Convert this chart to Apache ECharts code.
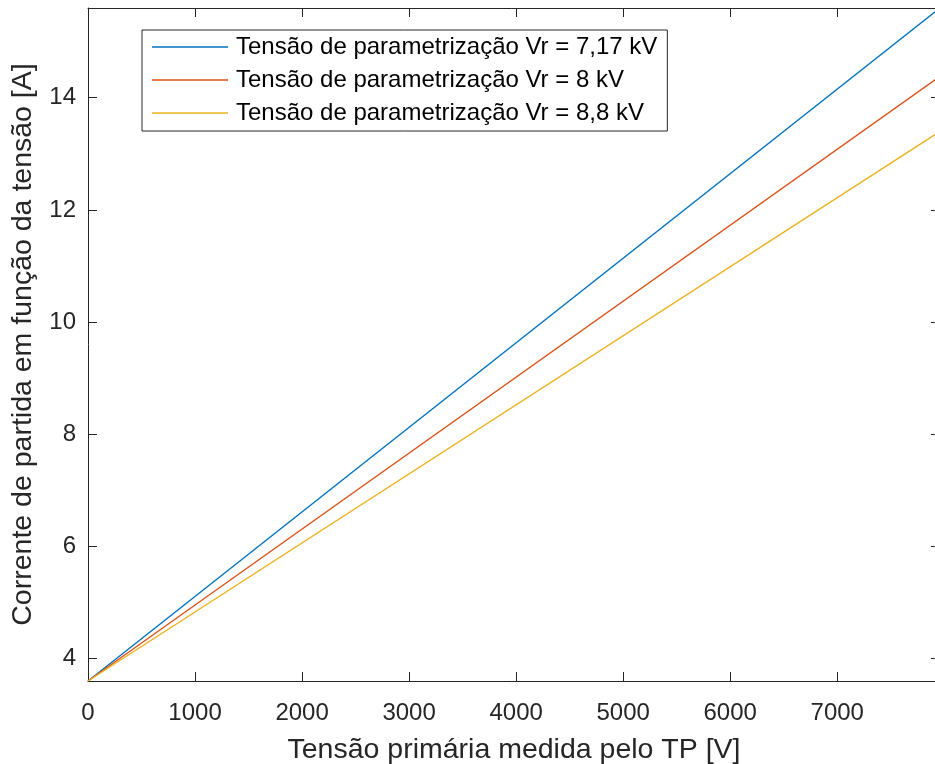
<!DOCTYPE html>
<html>
<head>
<meta charset="utf-8">
<script src="https://cdn.jsdelivr.net/npm/echarts@6/dist/echarts.min.js"></script>
<style>html,body{margin:0;padding:0;background:#fff}#c{width:935px;height:764px}</style>
</head>
<body>
<div id="c"></div>
<script>
const seriesNames = [
  'Tensão de parametrização Vr = 7,17 kV',
  'Tensão de parametrização Vr = 8 kV',
  'Tensão de parametrização Vr = 8,8 kV'
];
const xValues = [0, 7960];
const current717 = [3.6, 15.6];
const current8 = [3.6, 14.38];
const current88 = [3.6, 13.4];
const xTicks = [0, 1000, 2000, 3000, 4000, 5000, 6000, 7000];
const yTicks = [4, 6, 8, 10, 12, 14];
const colors = ['#0072BD', '#D95319', '#EDB120'];

const font = '"Liberation Sans", Arial, sans-serif';
const axisColor = '#262626';
const chart = echarts.init(document.getElementById('c'), null, {renderer: 'canvas'});

function pairs(ys) { return xValues.map((x, i) => [x, ys[i]]); }

const baseX = {
  type: 'value', min: 0, max: 7960,
  axisLine: {show: true, onZero: false, lineStyle: {color: axisColor, width: 1}},
  axisTick: {show: true, inside: true, length: 9, customValues: xTicks, lineStyle: {color: axisColor}},
  splitLine: {show: false}
};
const baseY = {
  type: 'value', min: 3.6, max: 15.6,
  axisLine: {show: true, onZero: false, lineStyle: {color: axisColor, width: 1}},
  axisTick: {show: true, inside: true, length: 9, customValues: yTicks, lineStyle: {color: axisColor}},
  splitLine: {show: false}
};

chart.setOption({
  animation: false,
  backgroundColor: '#fff',
  color: colors,
  grid: {left: 88, right: -5, top: 8, bottom: 83, containLabel: false, outerBoundsMode: 'none'},
  legend: {
    orient: 'vertical', left: 142, top: 30,
    data: seriesNames,
    backgroundColor: '#fff',
    borderColor: axisColor, borderWidth: 1, borderRadius: 0,
    padding: [5, 10, 6, 10],
    itemGap: 9, itemWidth: 76, itemHeight: 14,
    icon: 'path://M0,0 L76,0 L76,1.5 L0,1.5 Z',
    textStyle: {fontFamily: font, fontSize: 24, lineHeight: 24, color: '#000', padding: [0, 0, 0, 3]}
  },
  xAxis: [
    Object.assign({}, baseX, {
      position: 'bottom',
      name: 'Tensão primária medida pelo TP [V]',
      nameLocation: 'middle', nameGap: 55,
      nameTextStyle: {fontFamily: font, fontSize: 28.5, color: axisColor},
      axisLabel: {show: true, customValues: xTicks, margin: 20, fontFamily: font, fontSize: 24, color: axisColor,
        formatter: v => String(v)}
    }),
    Object.assign({}, baseX, {position: 'top', axisLabel: {show: false}})
  ],
  yAxis: [
    Object.assign({}, baseY, {
      position: 'left',
      name: 'Corrente de partida em função da tensão [A]',
      nameLocation: 'middle', nameGap: 50,
      nameTextStyle: {fontFamily: font, fontSize: 28.5, color: axisColor},
      axisLabel: {show: true, customValues: yTicks, margin: 12, fontFamily: font, fontSize: 24, color: axisColor}
    }),
    Object.assign({}, baseY, {position: 'right', axisLabel: {show: false}})
  ],
  series: [
    {name: seriesNames[0], type: 'line', data: pairs(current717), symbol: 'none', lineStyle: {width: 1.4}},
    {name: seriesNames[1], type: 'line', data: pairs(current8), symbol: 'none', lineStyle: {width: 1.4}},
    {name: seriesNames[2], type: 'line', data: pairs(current88), symbol: 'none', lineStyle: {width: 1.4}}
  ]
});
</script>
</body>
</html>
